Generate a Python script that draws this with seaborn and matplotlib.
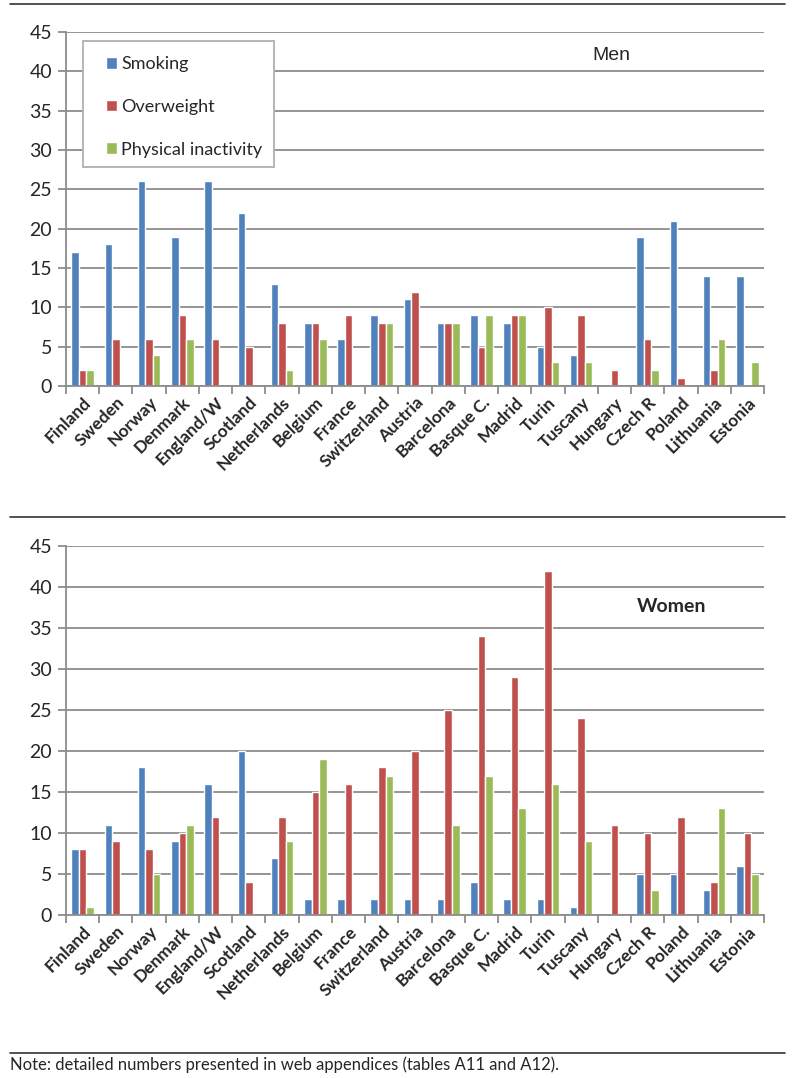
#Importing required Libraries
import numpy as np
import pandas as pd
from matplotlib import pyplot as plt
from matplotlib.patches import Rectangle
import seaborn as sns
import warnings
warnings.filterwarnings('ignore')

#Data
countries = ['Finland', 'Sweden', 'Norway', 'Denmark', 'England/W', 'Scotland',
             'Netherlands', 'Belgium', 'France', 'Switzerland', 'Austria',
             'Barcelona', 'Basque C.', 'Madrid', 'Turin', 'Tuscany', 'Hungary',
             'Czech R', 'Poland', 'Lithuania', 'Estonia']
series = ['Smoking', 'Overweight', 'Physical inactivity']

men_smoking = [17, 18, 26, 19, 26, 22, 13, 8, 6, 9, 11, 8, 9, 8, 5, 4, 0, 19, 21, 14, 14]
men_overweight = [2, 6, 6, 9, 6, 5, 8, 8, 9, 8, 12, 8, 5, 9, 10, 9, 2, 6, 1, 2, 0]
men_inactivity = [2, 0, 4, 6, 0, 0, 2, 6, 0, 8, 0, 8, 9, 9, 3, 3, 0, 2, 0, 6, 3]

women_smoking = [8, 11, 18, 9, 16, 20, 7, 2, 2, 2, 2, 2, 4, 2, 2, 1, 0, 5, 5, 3, 6]
women_overweight = [8, 9, 8, 10, 12, 4, 12, 15, 16, 18, 20, 25, 34, 29, 42, 24, 11, 10, 12, 4, 10]
women_inactivity = [1, 0, 5, 11, 0, 0, 9, 19, 0, 17, 0, 11, 17, 13, 16, 9, 0, 3, 0, 13, 5]

colors = ['#4F81BD', '#C0504D', '#9BBB59']
grid_col = '#8c8c8c'


def long_df(a, b, c):
    rows = []
    for name, vals in zip(series, [a, b, c]):
        for ctry, v in zip(countries, vals):
            rows.append({'country': ctry, 'series': name, 'value': v})
    return pd.DataFrame(rows)


men = long_df(men_smoking, men_overweight, men_inactivity)
women = long_df(women_smoking, women_overweight, women_inactivity)

sns.set_style('white')
plt.rcParams['font.family'] = ['Lato', 'DejaVu Sans']

fig = plt.figure(figsize=(7.97, 10.78), dpi=100)
ax1 = fig.add_axes([0.0828, 0.6419, 0.8758, 0.3284])
ax2 = fig.add_axes([0.0828, 0.1512, 0.8758, 0.3423])


def draw(ax, df):
    sns.barplot(data=df, x='country', y='value', hue='series', palette=colors,
                width=0.68, gap=0, saturation=1, ax=ax, legend=(ax is ax1))
    ax.set_ylim(0, 45)
    ax.set_xlim(-0.5, len(countries) - 0.5)
    ax.set_yticks(range(0, 46, 5))
    ax.yaxis.grid(True, color=grid_col, linewidth=1.3)
    ax.set_axisbelow(True)
    for s in ['top', 'right']:
        ax.spines[s].set_visible(False)
    for s in ['left', 'bottom']:
        ax.spines[s].set_color(grid_col)
        ax.spines[s].set_linewidth(1.3)
    ax.set_xlabel('')
    ax.set_ylabel('')
    # category labels, tick marks between groups
    ax.set_xticks(range(len(countries)))
    ax.set_xticklabels(countries, rotation=45, ha='right', rotation_mode='anchor',
                       fontsize=12.5, fontweight='bold')
    ax.set_xticks(np.arange(-0.5, len(countries), 1), minor=True)
    ax.tick_params(axis='x', which='major', length=0, pad=6)
    ax.tick_params(axis='x', which='minor', length=6, color=grid_col, width=1.3,
                   direction='out', bottom=True)
    ax.tick_params(axis='y', length=6, color=grid_col, width=1.3, direction='out',
                   left=True, labelsize=14, pad=4)


draw(ax1, men)
draw(ax2, women)

# legend box drawn by hand so the padding matches
box = Rectangle((0.0244, 0.6186), 0.2736, 0.356, transform=ax1.transAxes,
                facecolor='white', edgecolor='#b0b0b0', linewidth=1.3, zorder=5)
ax1.add_patch(box)
leg = ax1.legend(loc='upper left', bbox_to_anchor=(0.057, 0.932), fontsize=13,
                 frameon=False, labelspacing=1.48, handlelength=0.62,
                 handleheight=0.62, handletextpad=0.25, borderpad=0,
                 borderaxespad=0)
leg.set_zorder(6)
leg.set_title(None)

ax1.text(0.781, 0.935, 'Men', transform=ax1.transAxes, ha='center', va='center',
         fontsize=14, family=['Liberation Sans', 'DejaVu Sans'])
ax2.text(0.867, 0.835, 'Women', transform=ax2.transAxes, ha='center', va='center',
         fontsize=14, fontweight='bold')

# frame lines and note
for yy in [4, 517, 1053]:
    fig.add_artist(plt.Line2D([0.012, 0.985], [1 - yy / 1078, 1 - yy / 1078],
                              color='#333333', linewidth=1.2))
fig.text(0.012, 1 - 1065 / 1078, 'Note: detailed numbers presented in web appendices (tables A11 and A12).',
         ha='left', va='center', fontsize=12)

plt.savefig('out.png', dpi=100)
